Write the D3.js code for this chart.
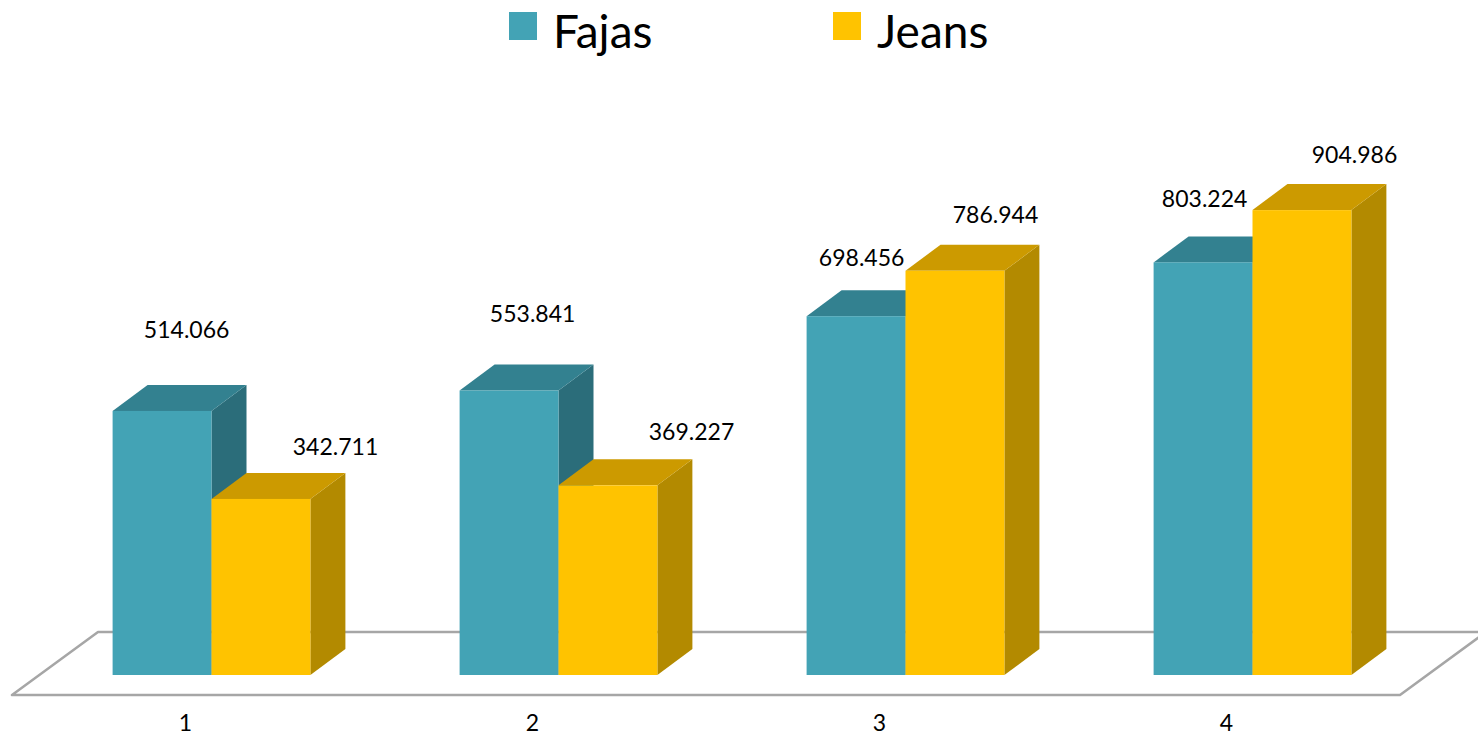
<!DOCTYPE html>
<html>
<head>
<meta charset="utf-8">
<script src="https://cdn.jsdelivr.net/npm/d3@7"></script>
<style>
  html, body { margin: 0; padding: 0; background: #fff; }
  svg text { font-family: Lato, "Open Sans", sans-serif; fill: #000; }
</style>
</head>
<body>
<div id="chart"></div>
<script>
'use strict';

// data
var categories = ['1', '2', '3', '4'];
var seriesNames = ['Fajas', 'Jeans'];
var fajas = [514.066, 553.841, 698.456, 803.224];
var jeans = [342.711, 369.227, 786.944, 904.986];
var valueLabels = {
  Fajas: ['514.066', '553.841', '698.456', '803.224'],
  Jeans: ['342.711', '369.227', '786.944', '904.986']
};

// hand-placed label nudges (relative to bar front-top-left), like the original layout
var labelNudge = {
  Fajas: [[74, -73], [73, -68], [55, -50], [51, -55]],
  Jeans: [[124, -44], [133, -45], [90, -48], [102, -47]]
};

var colors = {
  Fajas: { front: '#43a3b5', top: '#338190', side: '#2b6d7a' },
  Jeans: { front: '#ffc300', top: '#cc9a00', side: '#b38a00' }
};

var width = 1478, height = 738;
var depthX = 35, depthY = -26;
var baseY = 675;

var svg = d3.select('#chart')
  .append('svg')
  .attr('width', width)
  .attr('height', height);

var y = d3.scaleLinear()
  .domain([0, 1000])
  .range([baseY, baseY - 513.7]);

// bars stand on the plane in front; the floor front edge is a bit nearer
var x0 = d3.scaleBand()
  .domain(categories)
  .range([38, 1426])
  .paddingInner(0.43)
  .paddingOuter(0.215);

var x1 = d3.scaleBand()
  .domain(seriesNames)
  .range([0, x0.bandwidth()]);

var floorBand = d3.scaleBand()
  .domain(categories)
  .range([12, 1400]);

// floor
var floorFront = 695, floorDX = 86, floorDY = -63;
svg.append('path')
  .attr('d', 'M12,' + floorFront +
             ' L1400,' + floorFront +
             ' L' + (1400 + floorDX) + ',' + (floorFront + floorDY) +
             ' L' + (12 + floorDX) + ',' + (floorFront + floorDY) + ' Z')
  .attr('fill', '#fff')
  .attr('stroke', '#a6a6a6')
  .attr('stroke-width', 2.5)
  .attr('stroke-linejoin', 'round');

var values = { Fajas: fajas, Jeans: jeans };

categories.forEach(function (cat, i) {
  seriesNames.forEach(function (name) {
    var v = values[name][i];
    var bx = x0(cat) + x1(name);
    var bw = x1.bandwidth();
    var top = y(v);
    var c = colors[name];
    var g = svg.append('g').attr('class', 'bar3d');

    // side face
    g.append('path')
      .attr('d', 'M' + (bx + bw) + ',' + top +
                 ' L' + (bx + bw + depthX) + ',' + (top + depthY) +
                 ' L' + (bx + bw + depthX) + ',' + (baseY + depthY) +
                 ' L' + (bx + bw) + ',' + baseY + ' Z')
      .attr('fill', c.side);

    // top face
    g.append('path')
      .attr('d', 'M' + bx + ',' + top +
                 ' L' + (bx + depthX) + ',' + (top + depthY) +
                 ' L' + (bx + bw + depthX) + ',' + (top + depthY) +
                 ' L' + (bx + bw) + ',' + top + ' Z')
      .attr('fill', c.top);

    // front face
    g.append('rect')
      .attr('x', bx)
      .attr('y', top)
      .attr('width', bw)
      .attr('height', baseY - top)
      .attr('fill', c.front);
  });
});

// value labels
categories.forEach(function (cat, i) {
  seriesNames.forEach(function (name) {
    var bx = x0(cat) + x1(name);
    var nudge = labelNudge[name][i];
    svg.append('text')
      .attr('x', bx + nudge[0])
      .attr('y', y(values[name][i]) + nudge[1])
      .attr('text-anchor', 'middle')
      .style('font-size', '23px')
      .text(valueLabels[name][i]);
  });
});

// category labels
svg.append('g')
  .selectAll('text')
  .data(categories)
  .enter()
  .append('text')
  .attr('x', function (d) { return floorBand(d) + floorBand.bandwidth() / 2; })
  .attr('y', 731)
  .attr('text-anchor', 'middle')
  .style('font-size', '23px')
  .text(function (d) { return d; });

// legend
var legendX = { Fajas: 509, Jeans: 833 };
var legend = svg.append('g').attr('class', 'legend');
seriesNames.forEach(function (name) {
  legend.append('rect')
    .attr('x', legendX[name])
    .attr('y', 12)
    .attr('width', 28)
    .attr('height', 28)
    .attr('fill', colors[name].front);
  legend.append('text')
    .attr('x', legendX[name] + 44)
    .attr('y', 48)
    .style('font-size', '46px')
    .text(name);
});
</script>
</body>
</html>
